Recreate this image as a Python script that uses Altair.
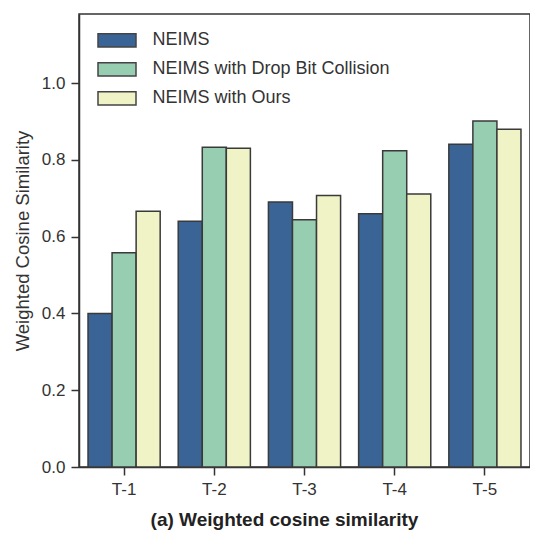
import altair as alt
import pandas as pd

tasks = ["T-1", "T-2", "T-3", "T-4", "T-5"]
series = ["NEIMS", "NEIMS with Drop Bit Collision", "NEIMS with Ours"]
neims = [0.400, 0.640, 0.690, 0.660, 0.841]
drop_bit = [0.558, 0.833, 0.644, 0.824, 0.901]
ours = [0.666, 0.830, 0.707, 0.711, 0.880]
colors = ["#3b6496", "#97cdb1", "#f0f3c5"]
y_ticks = [0.0, 0.2, 0.4, 0.6, 0.8, 1.0]

rows = []
for name, vals in zip(series, [neims, drop_bit, ours]):
    for t, v in zip(tasks, vals):
        rows.append({"task": t, "method": name, "value": v})
df = pd.DataFrame(rows)

font = "Liberation Sans"
dark = "#333333"
rect_path = "M-2,-0.7L2,-0.7L2,0.7L-2,0.7Z"

chart = alt.Chart(df).mark_bar(stroke="#3a3a3a", strokeWidth=1.5).encode(
    x=alt.X(
        "task:N", sort=tasks,
        scale=alt.Scale(paddingInner=0.2, paddingOuter=0.1),
        axis=alt.Axis(
            title="(a) Weighted cosine similarity", labelAngle=0,
            labelFont=font, labelFontSize=17, labelColor=dark, labelPadding=6,
            tickSize=8, tickColor=dark, tickWidth=1.5,
            domainColor=dark, domainWidth=1.5,
            titleFont=font, titleFontSize=19, titleFontWeight="bold", titleColor="#222222",
            titleX=205, titleY=58, titleAlign="center", titleBaseline="alphabetic",
        ),
    ),
    xOffset=alt.XOffset("method:N", sort=series,
                        scale=alt.Scale(paddingInner=0, paddingOuter=0)),
    y=alt.Y(
        "value:Q",
        scale=alt.Scale(domain=[0, 1.18], nice=False, zero=True),
        axis=alt.Axis(
            values=y_ticks, format=".1f", grid=False,
            title="Weighted Cosine Similarity",
            labelFont=font, labelFontSize=17, labelColor=dark, labelPadding=6,
            tickSize=8, tickColor=dark, tickWidth=1.5,
            domainColor=dark, domainWidth=1.5,
            titleFont=font, titleFontSize=18.5, titleFontWeight="normal", titleColor=dark,
            titleAngle=270, titleX=-57, titleY=226.5, titleAlign="center", titleBaseline="middle",
        ),
    ),
    fill=alt.Fill(
        "method:N", sort=series,
        scale=alt.Scale(domain=series, range=colors),
        legend=alt.Legend(
            title=None, orient="none", legendX=27.5, legendY=15.8,
            symbolType=rect_path, symbolSize=361, symbolStrokeColor="#444444",
            symbolStrokeWidth=1.5, symbolOpacity=1,
            labelFont=font, labelFontSize=18, labelColor=dark, labelOffset=25,
            labelLimit=400, rowPadding=8, padding=0,
        ),
    ),
).properties(
    width=451, height=453,
    background="white",
    autosize=alt.AutoSizeParams(type="none"),
    padding={"left": 71, "top": 6, "right": 0, "bottom": 63},
).configure_view(
    stroke=dark, strokeWidth=1.5
)

chart.save("out.html", embed_options={"renderer": "svg", "actions": False})
